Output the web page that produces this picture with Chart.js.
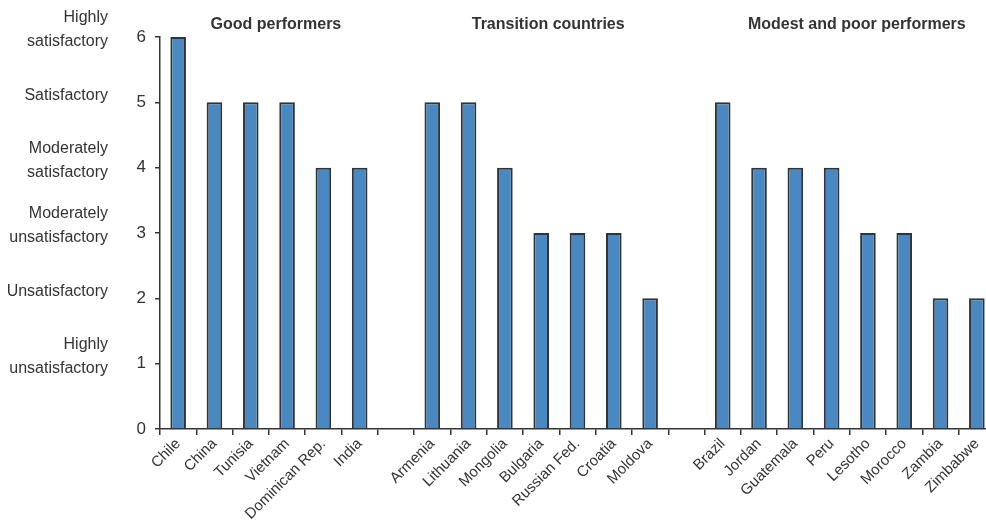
<!DOCTYPE html>
<html>
<head>
<meta charset="utf-8">
<script src="https://cdn.jsdelivr.net/npm/chart.js@4.4.1/dist/chart.umd.min.js"></script>
<style>
    html, body { margin: 0; padding: 0; background: #fff; overflow: hidden; }
    #wrap { position: relative; width: 1000px; height: 520px; }
</style>
</head>
<body>
<div id="wrap"><canvas id="ratings"></canvas></div>
<script>
// Countries, with an empty slot between the groups
const countries = [
    'Chile', 'China', 'Tunisia', 'Vietnam', 'Dominican Rep.', 'India', '',
    'Armenia', 'Lithuania', 'Mongolia', 'Bulgaria', 'Russian Fed.', 'Croatia', 'Moldova', '',
    'Brazil', 'Jordan', 'Guatemala', 'Peru', 'Lesotho', 'Morocco', 'Zambia', 'Zimbabwe'
];
const scores = [
    6, 5, 5, 5, 4, 4, null,
    5, 5, 4, 3, 3, 3, 2, null,
    5, 4, 4, 4, 3, 3, 2, 2
];

// Group headings and which countries they cover
const groupTitles = ['Good performers', 'Transition countries', 'Modest and poor performers'];
const groupFirst = ['Chile', 'Armenia', 'Brazil'];
const groupLast = ['India', 'Moldova', 'Zimbabwe'];

// Rating names for the y values 1..6
const ratingValues = [6, 5, 4, 3, 2, 1];
const ratingNames = [
    ['Highly', 'satisfactory'],
    ['Satisfactory'],
    ['Moderately', 'satisfactory'],
    ['Moderately', 'unsatisfactory'],
    ['Unsatisfactory'],
    ['Highly', 'unsatisfactory']
];

const FONT = '"Liberation Sans", Arial, sans-serif';
const INK = '#333333';

// Draws the rating names on the left and the group headings on top
const extraText = {
    id: 'extraText',
    afterDraw(chart) {
        const ctx = chart.ctx;
        const y = chart.scales.y;
        const x = chart.scales.x;
        ctx.save();
        ctx.fillStyle = INK;
        ctx.font = '16px ' + FONT;
        ctx.textAlign = 'right';
        ctx.textBaseline = 'middle';
        ratingValues.forEach((v, i) => {
            const lines = ratingNames[i];
            const mid = y.getPixelForValue(v) - 7;
            const lh = 24;
            lines.forEach((t, j) => {
                ctx.fillText(t, 108, mid + (j - (lines.length - 1) / 2) * lh);
            });
        });

        ctx.font = 'bold 16px ' + FONT;
        ctx.textAlign = 'center';
        groupTitles.forEach((t, i) => {
            const a = x.getPixelForValue(countries.indexOf(groupFirst[i]));
            const b = x.getPixelForValue(countries.lastIndexOf(groupLast[i]));
            ctx.fillText(t, (a + b) / 2 + 7, 25);
        });
        ctx.restore();
    }
};

new Chart(document.getElementById('ratings'), {
    type: 'bar',
    data: {
        labels: countries,
        datasets: [{
            data: scores,
            backgroundColor: '#4a88c2',
            borderColor: INK,
            borderWidth: 2,
            categoryPercentage: 1,
            barPercentage: 0.43
        }]
    },
    options: {
        responsive: true,
        maintainAspectRatio: false,
        animation: false,
        layout: { padding: { top: 37, right: 5, left: 0, bottom: 0 } },
        plugins: {
            legend: { display: false },
            tooltip: { enabled: false }
        },
        scales: {
            x: {
                grid: { drawOnChartArea: false, tickLength: 6, color: INK, lineWidth: 1.5 },
                border: { color: INK, width: 1.5 },
                ticks: {
                    color: INK,
                    font: { family: FONT, size: 15 },
                    maxRotation: 45,
                    minRotation: 45,
                    autoSkip: false,
                    padding: 0
                },
                afterFit(scale) { scale.height = 91; }
            },
            y: {
                min: 0,
                max: 6,
                grid: { drawOnChartArea: false, tickLength: 5, color: INK, lineWidth: 1.5 },
                border: { color: INK, width: 1.5 },
                ticks: {
                    stepSize: 1,
                    color: INK,
                    font: { family: FONT, size: 17 },
                    padding: 9
                },
                afterFit(scale) { scale.width = 160; }
            }
        }
    },
    plugins: [extraText]
});
</script>
</body>
</html>
